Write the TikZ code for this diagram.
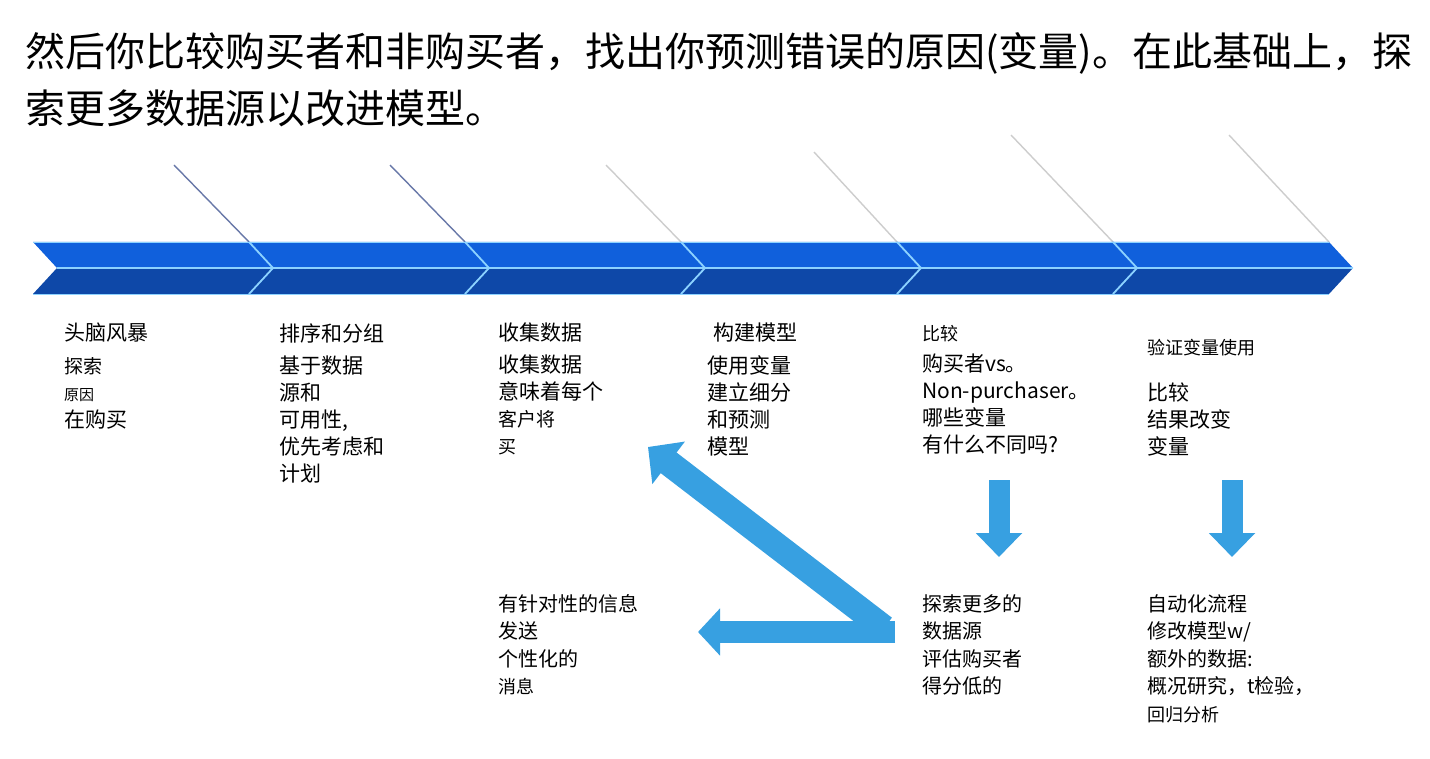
\documentclass[tikz,border=0pt]{standalone}
\usepackage{fontspec}
\newfontfamily\cjk{Noto Sans CJK SC}
\usepackage{tikz}
\usetikzlibrary{arrows.meta,positioning,calc}
\definecolor{bandtop}{RGB}{16,96,220}
\definecolor{bandbot}{RGB}{14,72,168}
\definecolor{bandglow}{RGB}{140,210,255}
\definecolor{arrowblue}{RGB}{55,160,225}
\definecolor{tickdark}{RGB}{104,120,168}
\definecolor{ticklight}{RGB}{205,205,205}
\tikzset{
  % the chevron band
  bandup/.style={fill=bandtop},
  banddn/.style={fill=bandbot},
  bandln/.style={draw=bandglow, line width=1.8pt, line join=miter},
  % thin slanted ticks above the band
  tickln/.style={line width=1.4pt},
  % text blocks under the band
  hdtxt/.style={font=\cjk\fontsize{21}{27}\selectfont, anchor=west, inner sep=0pt},
  bdtxt/.style={font=\cjk\fontsize{21}{27}\selectfont, anchor=north west, align=left, inner sep=0pt},
  lotxt/.style={font=\cjk\fontsize{20}{27.5}\selectfont, anchor=north west, align=left, inner sep=0pt},
  % fat blue arrows
  blockarr/.style={arrowblue, line cap=butt},
  downarr/.style={arrowblue, line width=21pt, -{Triangle[length=24pt,width=45pt]}},
}

\begin{document}
\begin{tikzpicture}[x=1pt,y=-1pt]
    \useasboundingbox (0,0) rectangle (1430,759);
    \fill[white] (0,0) rectangle (1430,759);
    % heading
    \node[font=\cjk\fontsize{40}{57}\selectfont, anchor=north west, align=left, inner sep=0pt]
      (title) at (25,32) {然后你比较购买者和非购买者，找出你预测错误的原因(变量)。在此基础上，探\\索更多数据源以改进模型。};
    % slanted ticks
    \foreach \x/\dx/\dy/\c in {249/75/77/tickdark, 465/75/77/tickdark, 681/75/77/ticklight,
                               897/83/90/ticklight, 1113/102/107/ticklight, 1329/100/107/ticklight}
      \draw[tickln, \c] (\x,242) -- ++(-\dx,-\dy);
    % chevron band, six segments
    \foreach \i in {0,...,5}{
      \pgfmathsetmacro\xa{33+216*\i}
      \pgfmathsetmacro\xb{\xa+216}
      \fill[bandup] (\xa,242) -- (\xb,242) -- (\xb+24,268) -- (\xa+24,268) -- cycle;
      \fill[banddn] (\xa+24,268) -- (\xb+24,268) -- (\xb,294) -- (\xa,294) -- cycle;
    }
    \draw[bandln] (57,268) -- (1353,268);
    \draw[bandln, line width=0.7pt] (33,242) -- (1329,242);
    \draw[bandln, line width=0.7pt] (33,294) -- (1329,294);
    \foreach \i in {1,...,5}{
      \pgfmathsetmacro\xa{33+216*\i}
      \draw[bandln] (\xa,242) -- (\xa+24,268) -- (\xa,294);
    }
    % step texts
    \node[hdtxt] (hd1) at (64,333) {头脑风暴};
    \node[bdtxt] (bd1) at (64,357) {{\fontsize{19}{27}\selectfont 探索}\\{\fontsize{15}{27}\selectfont 原因}\\在购买};
    \node[hdtxt] (hd2) at (279,333) {排序和分组};
    \node[bdtxt] (bd2) at (279,356) {基于数据\\源和\\可用性,\\优先考虑和\\计划};
    \node[hdtxt] (hd3) at (498,333) {收集数据};
    \node[bdtxt] (bd3) at (498,355) {收集数据\\意味着每个\\{\fontsize{19}{27}\selectfont 客户将}\\{\fontsize{18}{27}\selectfont 买}};
    \node[hdtxt] (hd4) at (713,333) {构建模型};
    \node[bdtxt] (bd4) at (707,355) {使用变量\\建立细分\\和预测\\模型};
    \node[hdtxt, font=\cjk\fontsize{18}{27}\selectfont] (hd5) at (922,334) {比较};
    \node[bdtxt] (bd5) at (922,354) {购买者vs。\\Non-purchaser。\\哪些变量\\有什么不同吗?};
    \node[hdtxt, font=\cjk\fontsize{18}{27}\selectfont] (hd6) at (1147,348) {验证变量使用};
    \node[bdtxt] (bd6) at (1147,383) {比较\\结果改变\\变量};
    % lower texts
    \node[lotxt] (lo3) at (498,594) {有针对性的信息\\发送\\个性化的\\{\fontsize{18}{27.5}\selectfont 消息}};
    \node[lotxt] (lo5) at (922,594) {探索更多的\\数据源\\评估购买者\\得分低的};
    \node[lotxt] (lo6) at (1147,594) {自动化流程\\修改模型w/\\额外的数据:\\概况研究，t检验，\\{\fontsize{18}{27.5}\selectfont 回归分析}};
    % bent double arrow
    \coordinate (bendA) at (884,628);
    \coordinate (tipA) at (648,447);
    \coordinate (bendB) at (895,632);
    \coordinate (tipB) at (698,632);
    \draw[blockarr, line width=26pt, -{Triangle[length=26pt,width=52pt]}] (bendA) -- (tipA);
    \draw[blockarr, line width=22pt, -{Triangle[length=22pt,width=46pt]}] (bendB) -- (tipB);
    % down arrows
    \coordinate (dnA1) at (999,480);
    \coordinate (dnA2) at (999,557);
    \coordinate (dnB1) at (1232,480);
    \coordinate (dnB2) at (1232,557);
    \draw[downarr] (dnA1) -- (dnA2);
    \draw[downarr] (dnB1) -- (dnB2);
\end{tikzpicture}
\end{document}
